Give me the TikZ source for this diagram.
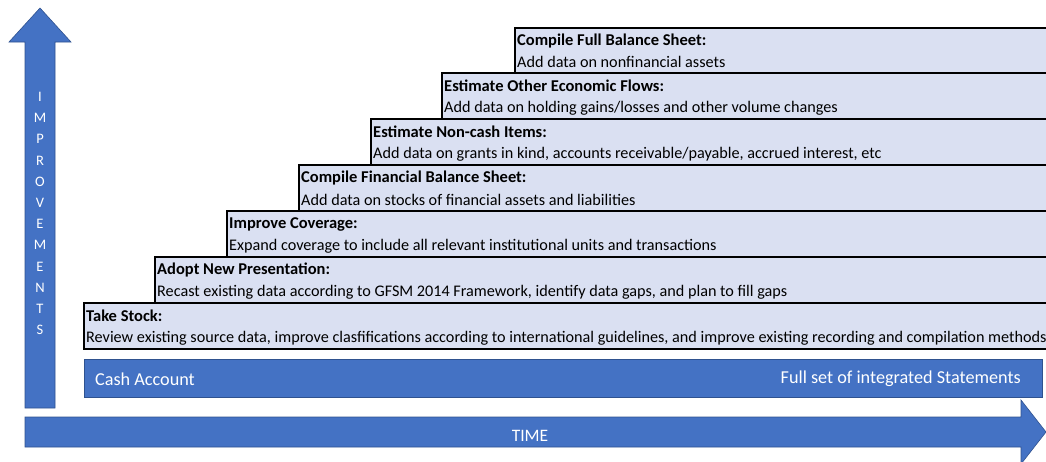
\documentclass[tikz,border=0pt]{standalone}
\usepackage{fontspec}
\setmainfont{Carlito}
\usetikzlibrary{calc}
\definecolor{bluefill}{HTML}{4472C4}
\definecolor{blueline}{HTML}{2F528F}
\definecolor{stepfill}{HTML}{DAE0F2}
\tikzset{
  stepbox/.style={draw=black, line width=1.6pt, fill=stepfill, rectangle, anchor=north west,
    minimum width=#1, minimum height=46pt, inner sep=0pt},
  steptitle/.style={anchor=west, inner sep=0pt, font=\fontsize{16.5}{18}\selectfont\bfseries},
  steptext/.style={anchor=west, inner sep=0pt, font=\fontsize{16.2}{18}\selectfont},
  bluebar/.style={fill=bluefill, draw=blueline, line width=0.6pt},
  whitetext/.style={text=white, inner sep=0pt, font=\fontsize{18.2}{20}\selectfont},
}
\begin{document}
\begin{tikzpicture}[x=1pt,y=-1pt]
\useasboundingbox (0,0) rectangle (1046,461);
% arrows
\draw[bluebar] (25,408) -- (25,42) -- (9,42) -- (40,8) -- (71,42) -- (55,42) -- (55,408) -- cycle;
\draw[bluebar] (25,417) -- (1021,417) -- (1021,400) -- (1046,432) -- (1021,464) -- (1021,447) -- (25,447) -- cycle;
\node[text=white, inner sep=0pt, anchor=north, align=center, font=\fontsize{14.5}{21.2}\selectfont] (imp) at (40,92)
  {I\\M\\P\\R\\O\\V\\E\\M\\E\\N\\T\\S};
\node[text=white, inner sep=0pt, font=\fontsize{17.5}{20}\selectfont] (time) at (530,436) {TIME};
% cash bar
\draw[bluebar] (84,359) rectangle (1042,397);
\coordinate (cashl) at (95,379);
\coordinate (cashr) at (1021,379);
\node[whitetext, anchor=west] (cash) at (cashl) {Cash Account};
\node[whitetext, anchor=east] (full) at (cashr) {Full set of integrated Statements};
% step boxes
\node[stepbox=560pt, minimum height=45pt] (b7) at (514,27) {};
\node[steptitle] (t7) at ($(b7.north west)+(3,14)$) {Compile Full Balance Sheet:};
\node[steptext] (s7) at ($(b7.north west)+(3,35)$) {Add data on nonfinancial assets};

\node[stepbox=640pt] (b6) at (441,72) {};
\node[steptitle] (t6) at ($(b6.north west)+(3,14)$) {Estimate Other Economic Flows:};
\node[steptext] (s6) at ($(b6.north west)+(3,36)$) {Add data on holding gains/losses and other volume changes};

\node[stepbox=710pt] (b5) at (370,118) {};
\node[steptitle] (t5) at ($(b5.north west)+(3,14)$) {Estimate Non-cash Items:};
\node[steptext] (s5) at ($(b5.north west)+(3,36)$) {Add data on grants in kind, accounts receivable/payable, accrued interest, etc};

\node[stepbox=780pt] (b4) at (298,164) {};
\node[steptitle] (t4) at ($(b4.north west)+(3,14)$) {Compile Financial Balance Sheet:};
\node[steptext] (s4) at ($(b4.north west)+(3,36)$) {Add data on stocks of financial assets and liabilities};

\node[stepbox=850pt] (b3) at (226,210) {};
\node[steptitle] (t3) at ($(b3.north west)+(3,14)$) {Improve Coverage:};
\node[steptext] (s3) at ($(b3.north west)+(3,36)$) {Expand coverage to include all relevant institutional units and transactions};

\node[stepbox=920pt] (b2) at (154,256) {};
\node[steptitle] (t2) at ($(b2.north west)+(3,14)$) {Adopt New Presentation:};
\node[steptext] (s2) at ($(b2.north west)+(3,36)$) {Recast existing data according to GFSM 2014 Framework, identify data gaps, and plan to fill gaps};

\node[stepbox=1000pt] (b1) at (83,302) {};
\node[steptitle] (t1) at ($(b1.north west)+(3,14)$) {Take Stock:};
\node[steptext] (s1) at ($(b1.north west)+(3,36)$) {Review existing source data, improve clasfifications according to international guidelines, and improve existing recording and compilation methods};
\end{tikzpicture}
\end{document}
